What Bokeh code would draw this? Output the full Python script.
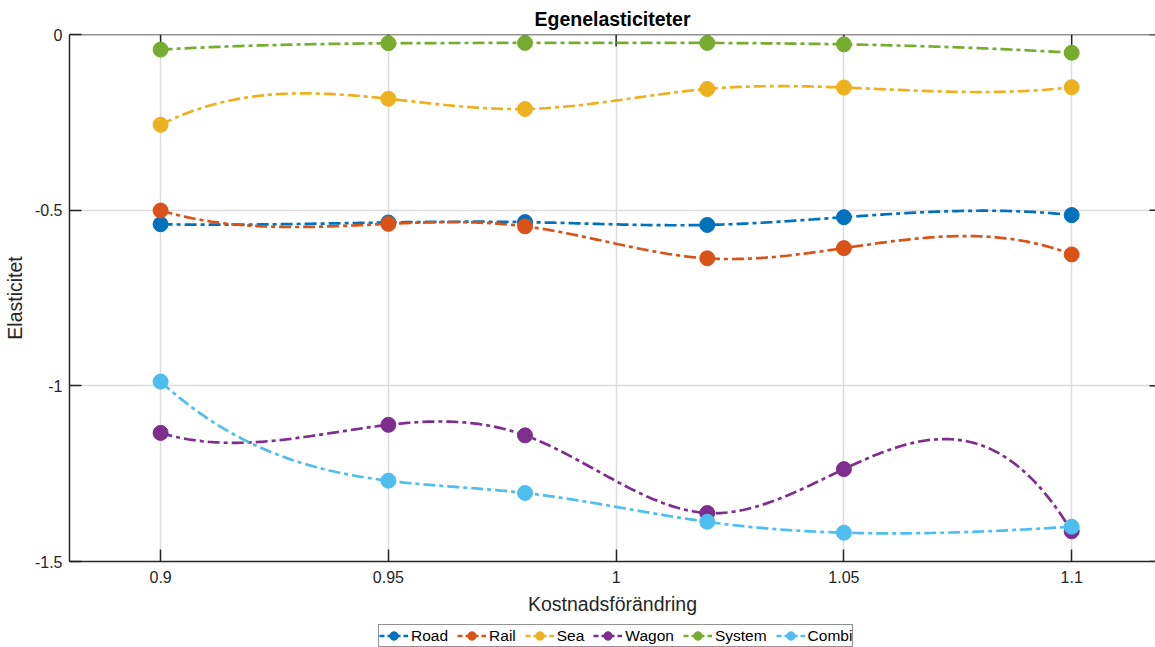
import numpy as np
from bokeh.plotting import figure
from bokeh.layouts import column
from bokeh.models import (LinearAxis, FixedTicker, Range1d, Legend, LegendItem, Grid, Span)
from bokeh.embed import file_html
from bokeh.resources import INLINE

# Cost change factors (x) and own-price elasticities per transport mode
cost_change = [0.9, 0.95, 0.98, 1.02, 1.05, 1.1]
road = [-0.540, -0.535, -0.534, -0.542, -0.520, -0.514]
rail = [-0.501, -0.539, -0.546, -0.637, -0.608, -0.626]
sea = [-0.257, -0.183, -0.212, -0.155, -0.151, -0.150]
wagon = [-1.134, -1.111, -1.141, -1.362, -1.237, -1.414]
system = [-0.043, -0.025, -0.024, -0.024, -0.028, -0.052]
combi = [-0.988, -1.270, -1.305, -1.387, -1.418, -1.401]

series_names = ["Road", "Rail", "Sea", "Wagon", "System", "Combi"]
series_values = [road, rail, sea, wagon, system, combi]
series_colors = ["#0072BD", "#D95319", "#EDB120", "#7E2F8E", "#77AC30", "#4DBEEE"]

x_ticks = [0.9, 0.95, 1.0, 1.05, 1.1]
x_tick_labels = ["0.9", "0.95", "1", "1.05", "1.1"]
y_ticks = [-1.5, -1.0, -0.5, 0.0]
y_tick_labels = ["-1.5", "-1", "-0.5", "0"]

X_START, X_END = 0.88, 1.1184
Y_START, Y_END = -1.5, 0.0
FRAME_W, FRAME_H = 1087, 527

FONT = "Liberation Sans"
INK = "#262626"
DASH = "12 4 4 4"


def not_a_knot_spline(x, y, n=400):
    """Cubic spline with not-a-knot end conditions, sampled densely."""
    x = np.asarray(x, float)
    y = np.asarray(y, float)
    k = len(x) - 1
    A = np.zeros((4 * k, 4 * k))
    b = np.zeros(4 * k)
    r = 0
    for i in range(k):
        h = x[i + 1] - x[i]
        A[r, 4 * i:4 * i + 4] = [1, 0, 0, 0]
        b[r] = y[i]
        r += 1
        A[r, 4 * i:4 * i + 4] = [1, h, h * h, h ** 3]
        b[r] = y[i + 1]
        r += 1
    for i in range(k - 1):
        h = x[i + 1] - x[i]
        A[r, 4 * i:4 * i + 4] = [0, 1, 2 * h, 3 * h * h]
        A[r, 4 * (i + 1) + 1] = -1
        r += 1
        A[r, 4 * i:4 * i + 4] = [0, 0, 2, 6 * h]
        A[r, 4 * (i + 1) + 2] = -2
        r += 1
    A[r, 3] = 1
    A[r, 7] = -1
    r += 1
    A[r, 4 * (k - 2) + 3] = 1
    A[r, 4 * (k - 1) + 3] = -1
    coef = np.linalg.solve(A, b).reshape(k, 4)
    xs = np.linspace(x[0], x[-1], n)
    idx = np.clip(np.searchsorted(x, xs, side="right") - 1, 0, k - 1)
    t = xs - x[idx]
    c = coef[idx]
    ys = c[:, 0] + c[:, 1] * t + c[:, 2] * t ** 2 + c[:, 3] * t ** 3
    return xs, ys


p = figure(width=1155, height=620,
           x_range=Range1d(X_START, X_END), y_range=Range1d(Y_START, Y_END),
           output_backend="svg", toolbar_location=None,
           x_axis_location=None, y_axis_location=None,
           min_border_left=68, min_border_right=0,
           min_border_top=34, min_border_bottom=59)
p.outline_line_color = None
p.background_fill_color = "white"
p.border_fill_color = "white"
p.center = [r for r in p.center if not isinstance(r, Grid)]

xticker = FixedTicker(ticks=x_ticks)
yticker = FixedTicker(ticks=y_ticks)

p.add_layout(Grid(dimension=0, ticker=xticker, grid_line_color="#dcdcdc", grid_line_width=1.5))
p.add_layout(Grid(dimension=1, ticker=yticker, grid_line_color="#dcdcdc", grid_line_width=1.5))


def style_axis(ax, labels, ticks):
    ax.axis_line_color = INK
    ax.axis_line_width = 1.5
    ax.major_tick_line_color = INK
    ax.major_tick_line_width = 1.5
    ax.major_tick_in = 12
    ax.major_tick_out = 0
    ax.minor_tick_line_color = None
    ax.major_label_text_font = FONT
    ax.major_label_text_color = INK
    ax.major_label_text_font_size = "16px"
    ax.axis_label_text_font = FONT
    ax.axis_label_text_color = INK
    ax.axis_label_text_font_style = "normal"
    ax.axis_label_text_font_size = "19.5px"
    ax.major_label_overrides = {t: s for t, s in zip(ticks, labels)}


bottom = LinearAxis(ticker=xticker, axis_label="Kostnadsförändring")
style_axis(bottom, x_tick_labels, x_ticks)
bottom.major_label_standoff = 9
bottom.axis_label_standoff = 7
p.add_layout(bottom, "below")

left = LinearAxis(ticker=yticker, axis_label="Elasticitet")
style_axis(left, y_tick_labels, y_ticks)
left.major_label_standoff = 7
left.axis_label_standoff = 6
p.add_layout(left, "left")

# Box: top border with inward ticks, short inward ticks on the right side
p.add_layout(Span(location=Y_END, dimension="width", line_color=INK, line_width=1.5))
tick_dy = 12 * (Y_END - Y_START) / FRAME_H
tick_dx = 6 * (X_END - X_START) / FRAME_W
p.segment(x0=x_ticks, y0=[Y_END] * len(x_ticks), x1=x_ticks,
          y1=[Y_END - tick_dy] * len(x_ticks), line_color=INK, line_width=1.5)
p.segment(x0=[X_END] * len(y_ticks), y0=y_ticks, x1=[X_END - tick_dx] * len(y_ticks),
          y1=y_ticks, line_color=INK, line_width=1.5)

p.title.text = "Egenelasticiteter"
p.title.align = "center"
p.title.text_font = FONT
p.title.text_font_size = "19.5px"
p.title.text_font_style = "bold"
p.title.text_color = "black"

for vals, col in zip(series_values, series_colors):
    xs, ys = not_a_knot_spline(cost_change, vals)
    p.line(xs, ys, line_color=col, line_width=2.7, line_dash=DASH)
    p.scatter(cost_change, vals, size=15, marker="circle", fill_color=col, line_color=col)

# Legend strip underneath the axes: one line+marker key per transport mode.
# Its ranges lie far from the series values, so only the keys show.
key = figure(width=1155, height=27, x_range=Range1d(10, 11), y_range=Range1d(10, 11),
             output_backend="svg", toolbar_location=None,
             x_axis_location=None, y_axis_location=None,
             min_border=0, min_border_left=68)
key.outline_line_color = None
key.center = [r for r in key.center if not isinstance(r, Grid)]

items = []
for name, vals, col in zip(series_names, series_values, series_colors):
    ln = key.line(cost_change, vals, line_color=col, line_width=2.7, line_dash="5 3")
    sc = key.scatter(cost_change, vals, marker="circle", size=12,
                     fill_color=col, line_color=col)
    items.append(LegendItem(label=name, renderers=[ln, sc]))

legend = Legend(items=items, orientation="horizontal", location=(309, 0))
legend.border_line_color = INK
legend.border_line_width = 1
legend.background_fill_color = "white"
legend.background_fill_alpha = 1
legend.label_text_font = FONT
legend.label_text_font_size = "15.5px"
legend.label_text_color = "black"
legend.glyph_width = 29
legend.glyph_height = 21
legend.label_standoff = 3
legend.label_height = 16
legend.spacing = 9
legend.padding = 0
legend.margin = 0
key.add_layout(legend)

open("out.html", "w").write(file_html(column(p, key, spacing=0), INLINE))
